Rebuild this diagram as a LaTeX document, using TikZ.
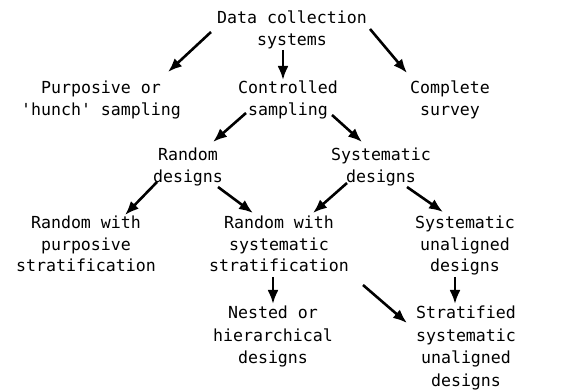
\documentclass[tikz,border=0pt]{standalone}
\usepackage{fontspec}
\newfontfamily\twfont{DejaVu Sans Mono}
\usetikzlibrary{arrows.meta,calc}
\begin{document}
\begin{tikzpicture}[x=1pt,y=-1pt,
  lbl/.style={inner sep=0pt, align=center, anchor=north, font=\twfont\fontsize{16.6}{21.5}\selectfont},
  lbltall/.style={lbl, font=\twfont\fontsize{16.6}{22.5}\selectfont},
  arr/.style={line width=2.6pt, -{Latex[length=14pt,width=11pt]}}]
\useasboundingbox (0,0) rectangle (584,390);
\node[lbl] (dcs) at (292,11) {Data collection\\systems};
\node[lbl] (purp) at (101,81) {Purposive or\\'hunch' sampling};
\node[lbl] (ctrl) at (288,81) {Controlled\\sampling};
\node[lbl] (comp) at (450,81) {Complete\\survey};
\node[lbl] (rand) at (188,148) {Random\\designs};
\node[lbl] (sys) at (381,148) {Systematic\\designs};
\node[lbl] (rwps) at (86,216) {Random with\\purposive\\stratification};
\node[lbl] (rwss) at (279,216) {Random with\\systematic\\stratification};
\node[lbl] (sud) at (465,216) {Systematic\\unaligned\\designs};
\node[lbltall] (nest) at (273,306) {Nested or\\hierarchical\\designs};
\node[lbltall] (strat) at (466,306) {Stratified\\systematic\\unaligned\\designs};
\draw[arr] ($(dcs.north)+(-81,21)$) -- ($(purp.north)+(67,-9)$);
\draw[arr] ($(dcs.north)+(-9,39)$) -- ($(ctrl.north)+(-5,-1)$);
\draw[arr] ($(dcs.north)+(78,18)$) -- ($(comp.north)+(-43,-8)$);
\draw[arr] ($(ctrl.north)+(-42,32)$) -- ($(rand.north)+(25,-6)$);
\draw[arr] ($(ctrl.north)+(44,34)$) -- ($(sys.north)+(-19,-6)$);
\draw[arr] ($(rand.north)+(-31,34)$) -- ($(rwps.north)+(39,-1)$);
\draw[arr] ($(rand.north)+(30,39)$) -- ($(rwss.north)+(-26,-3)$);
\draw[arr] ($(sys.north)+(-34,35)$) -- ($(rwss.north)+(34,-3)$);
\draw[arr] ($(sys.north)+(26,39)$) -- ($(sud.north)+(-22,-4)$);
\draw[arr] ($(rwss.north)+(-6,61)$) -- ($(nest.north)+(0,-2)$);
\draw[arr] ($(sud.north)+(-10,61)$) -- ($(strat.north)+(-11,-2)$);
\draw[arr] ($(rwss.north)+(84,69)$) -- ($(strat.north)+(-59,17)$);
\end{tikzpicture}
\end{document}
